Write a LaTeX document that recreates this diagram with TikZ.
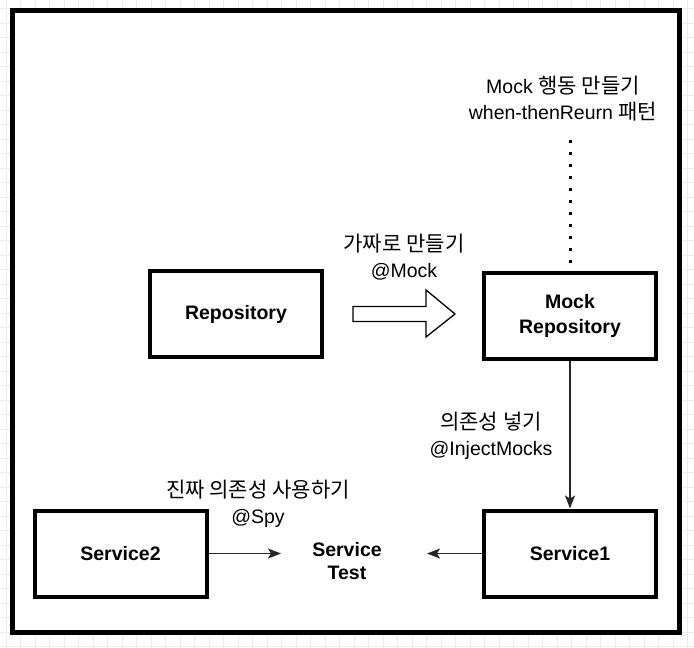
\documentclass[tikz,border=0pt]{standalone}
\usepackage{fontspec}
\setmainfont{Liberation Sans}
\newfontfamily\kr[Scale=1.08]{Noto Sans CJK KR}
\usetikzlibrary{arrows.meta}

\begin{document}
\begin{tikzpicture}[x=1pt,y=-1pt,
    gridline/.style={draw=black!8,line width=0.8pt},
    box/.style={draw,line width=4pt,fill=white,minimum width=172pt,minimum height=86pt,
      align=center,font=\bfseries\fontsize{19.5}{25}\selectfont},
    lbl/.style={align=center,font=\fontsize{19.5}{26}\selectfont},
    conn/.style={draw=black!85,line width=1.3pt,-{Stealth[length=13pt,width=10pt,inset=3pt]}}]
    \useasboundingbox (0,0) rectangle (694,648);

    % background grid
    \foreach \gx in {0,...,47} \draw[gridline] (6+14.5*\gx,0) -- (6+14.5*\gx,648);
    \foreach \gy in {0,...,44} \draw[gridline] (0,8.5+14.5*\gy) -- (694,8.5+14.5*\gy);
    \draw[line width=4.5pt,fill=white] (12.5,10.5) rectangle (679.5,632.5);

    \node[box] (repo) at (236,314)   {Repository};
    \node[box] (mock) at (570,315.5) {Mock\\Repository};
    \node[box] (svc2) at (120.5,553.5) {Service2};
    \node[box] (svc1) at (570,553.5) {Service1};
    \node[align=center,font=\bfseries\fontsize{19.5}{23}\selectfont] (test) at (347,561.5) {Service\\Test};

    \node[lbl] (mocknote) at (563,99)   {Mock {\kr 행동 만들기}\\when-thenReurn {\kr 패턴}};
    \node[lbl] (fakenote) at (404,257)  {{\kr 가짜로 만들기}\\@Mock};
    \node[lbl] (injnote)  at (491,436)  {{\kr 의존성 넣기}\\@InjectMocks};
    \node[lbl] (spynote)  at (258,504)  {{\kr 진짜 의존성 사용하기}\\@Spy};

    \coordinate (dtop) at (570,140);
    \coordinate (in2)  at (281,553.5); % left side of Service Test
    \coordinate (in1)  at (427,553.5); % right side of Service Test

    % block arrow Repository -> Mock
    \draw[line width=1.3pt,fill=white] (353,306.5) -- (426,306.5) -- (426,290) -- (455,314)
      -- (426,337) -- (426,321.5) -- (353,321.5) -- cycle;

    \draw[line width=3pt,dash pattern=on 3pt off 9pt] (dtop) -- (570,271);
    \draw[conn] (mock.south) -- (svc1.north);
    \draw[conn] (svc2.east) -- (in2);
    \draw[conn] (svc1.west) -- (in1);
\end{tikzpicture}
\end{document}
